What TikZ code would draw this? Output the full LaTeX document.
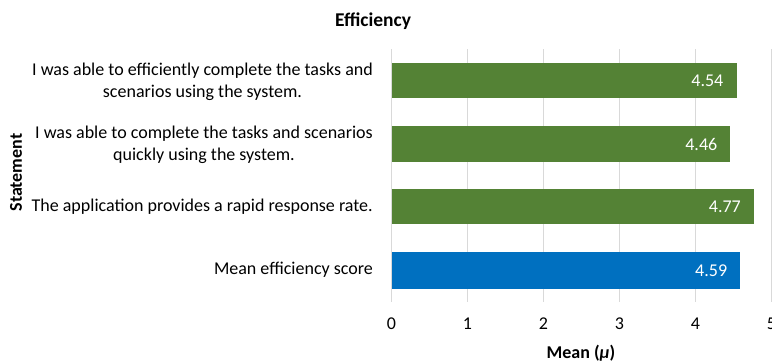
\documentclass[tikz,border=0pt]{standalone}
\usepackage{fontspec}
\setmainfont{Carlito}
\definecolor{bargreen}{RGB}{84,130,53}
\definecolor{barblue}{RGB}{0,112,192}
\definecolor{gridgray}{RGB}{217,217,217}
\tikzset{
  statement/.style={anchor=east, align=center, inner sep=0pt, font=\fontsize{18}{22}\selectfont},
  barvalue/.style={anchor=east, inner sep=0pt, text=white, font=\fontsize{18}{20}\selectfont},
  ticklabel/.style={font=\fontsize{18}{20}\selectfont},
  axistitle/.style={font=\bfseries\fontsize{18}{20}\selectfont}
}
\begin{document}
\begin{tikzpicture}[x=1pt, y=-1pt]
  \useasboundingbox (0,0) rectangle (772,362);
  % grid lines and tick labels
  \foreach \i in {0,...,5} {
    \draw[gridgray, line width=1.3pt] (391.5+76*\i,49) -- (391.5+76*\i,302);
    \node[ticklabel] (tick\i) at (391.5+76*\i,324) {\i};
  }
  % bars
  \fill[bargreen] (391.5,63) rectangle (391.5+76*4.54,98);
  \fill[bargreen] (391.5,126) rectangle (391.5+76*4.46,162);
  \fill[bargreen] (391.5,189) rectangle (391.5+76*4.77,224);
  \fill[barblue] (391.5,252) rectangle (391.5+76*4.59,289);
  \node[barvalue] (val1) at (391.5+76*4.54-13,80.5) {4.54};
  \node[barvalue] (val2) at (391.5+76*4.46-13,144) {4.46};
  \node[barvalue] (val3) at (391.5+76*4.77-13,206.5) {4.77};
  \node[barvalue] (val4) at (391.5+76*4.59-13,270.5) {4.59};
  % statements
  \node[statement] (st1) at (373,82) {I was able to efficiently complete the tasks and\\scenarios using the system.};
  \node[statement] (st2) at (373,145) {I was able to complete the tasks and scenarios\\quickly using the system.};
  \node[statement] (st3) at (373,207) {The application provides a rapid response rate.};
  \node[statement] (st4) at (373,270) {Mean efficiency score};
  % titles
  \node[axistitle, font=\bfseries\fontsize{19.5}{22}\selectfont] (title) at (373,21) {Efficiency};
  \node[axistitle, rotate=90] (ytitle) at (16,172.5) {Statement};
  \node[axistitle] (xtitle) at (581,353) {Mean (\textit{μ})};
\end{tikzpicture}
\end{document}
